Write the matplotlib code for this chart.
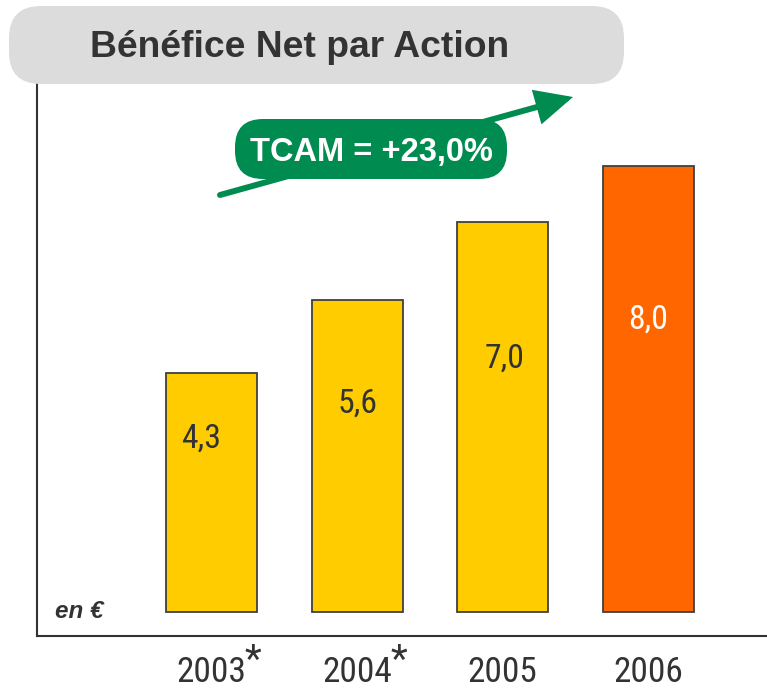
import matplotlib
matplotlib.use("Agg")
import matplotlib.pyplot as plt
from matplotlib import font_manager
from matplotlib.font_manager import FontProperties
from matplotlib.patches import FancyBboxPatch, FancyArrowPatch

# data
years = ["2003", "2004", "2005", "2006"]
footnote = [True, True, False, False]
bpa = [4.3, 5.6, 7.0, 8.0]
bar_colors = ["#FFCC00", "#FFCC00", "#FFCC00", "#FF6600"]
label_colors = ["#333333", "#333333", "#333333", "#FFFFFF"]
label_pos = [0.739, 0.68, 0.659, 0.664]   # label height as a share of the bar
label_dx = [-0.07, 0.0, 0.01, 0.0]        # small sideways nudge of the labels
title = "Bénéfice Net par Action"
tcam_text = "TCAM = +23,0%"
unit_text = "en €"


# look for a condensed sans face (Arial Narrow look), else plain Liberation Sans
def find_narrow():
    fonts = font_manager.fontManager.ttflist
    plain = [f for f in fonts if f.style == "normal" and f.weight in (400, "normal", "regular")]
    for want in ["Liberation Sans Narrow", "Arial Narrow", "Roboto Condensed",
                 "Open Sans Condensed", "Noto Sans Condensed"]:
        for f in plain:
            if f.name == want:
                return f.fname, True
    for f in plain:
        if f.stretch in ("condensed", "semi-condensed", "extra-condensed") and "Mono" not in f.name \
                and "Serif" not in f.name:
            return f.fname, True
    return None, False


narrow_file, is_narrow = find_narrow()


def narrow_font(size):
    if is_narrow:
        return FontProperties(fname=narrow_file, size=size)
    return FontProperties(family="Liberation Sans", size=size * 0.88)


dark = "#333333"
green = "#008C50"

fig = plt.figure(figsize=(7.67, 6.88), dpi=100)

# main axes: left line at x=37px, bottom line at y=636px
ax = fig.add_axes([37 / 767, 52 / 688, 730 / 767, 552 / 688])
x = list(range(len(years)))
ax.bar(x, bpa, width=0.625, color=bar_colors, edgecolor="#404040", linewidth=1.3, zorder=2)
ax.set_xlim(-1.2, 3.817)
ax.set_ylim(-0.43, 9.48)
for s in ["top", "right"]:
    ax.spines[s].set_visible(False)
for s in ["left", "bottom"]:
    ax.spines[s].set_color(dark)
    ax.spines[s].set_linewidth(1.5)
ax.set_xticks([])
ax.set_yticks([])

# value labels inside bars
for i, v in enumerate(bpa):
    ax.text(i + label_dx[i], v * label_pos[i], f"{v:.1f}".replace(".", ","),
            ha="center", va="center_baseline",
            fontproperties=narrow_font(24.3), color=label_colors[i], zorder=3)

# year labels under axis
xt = ax.get_xaxis_transform()
for i, yr in enumerate(years):
    ax.text(i, -0.0833, yr, transform=xt, ha="center", va="baseline",
            fontproperties=narrow_font(25.5), color=dark)
    if footnote[i]:
        ax.annotate("*", xy=(i, -0.0833), xycoords=xt, xytext=(33, 10),
                    textcoords="offset pixels", ha="left", va="baseline",
                    fontproperties=narrow_font(28), color=dark)

ax.text(0.024, 0.045, unit_text, transform=ax.transAxes, ha="left", va="center",
        fontsize=17.5, family="Liberation Sans", fontweight="bold", style="italic", color=dark)

# overlay in pixel coordinates for title box and growth arrow
ov = fig.add_axes([0, 0, 1, 1], zorder=5)
ov.set_xlim(0, 767)
ov.set_ylim(688, 0)
ov.axis("off")
ov.patch.set_visible(False)

ov.add_patch(FancyBboxPatch((9, 6), 615, 78, boxstyle="round,pad=0,rounding_size=32",
                            facecolor="#DCDCDC", edgecolor="none"))
ov.text(90, 57, title, ha="left", va="baseline", fontsize=26.8, fontweight="bold",
        family="Liberation Sans", color=dark)

ov.add_patch(FancyArrowPatch((220, 195), (573, 97),
                             arrowstyle="-|>,head_length=20,head_width=9.5",
                             mutation_scale=1, lw=4.3, color=green,
                             shrinkA=0, shrinkB=0, joinstyle="miter"))
ov.add_patch(FancyBboxPatch((235, 119), 272, 60, boxstyle="round,pad=0,rounding_size=28",
                            facecolor=green, edgecolor="none", zorder=3))
ov.text(371, 149, tcam_text, ha="center", va="center_baseline", fontsize=23.5,
        fontweight="bold", family="Liberation Sans", color="white", zorder=4)

fig.savefig("out.png", dpi=100, facecolor="white")
